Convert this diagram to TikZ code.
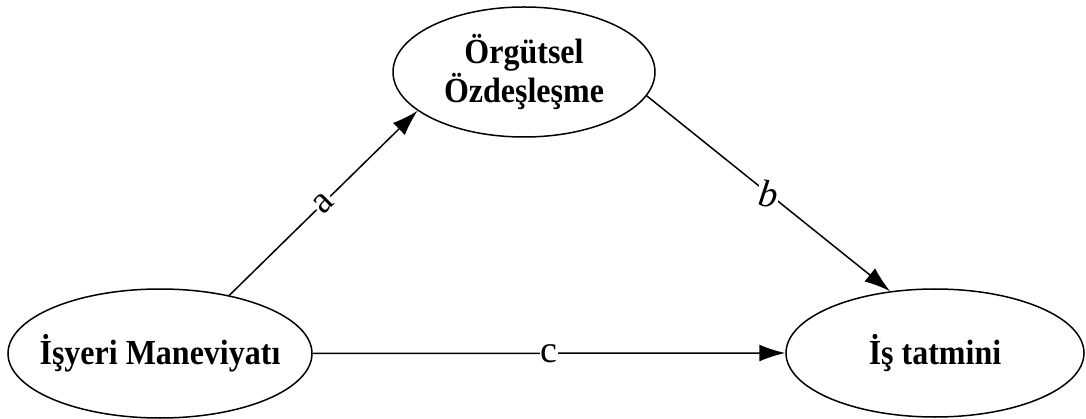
\documentclass[tikz,border=0pt]{standalone}
\usepackage{fontspec}
\setmainfont{Liberation Serif}
\usetikzlibrary{shapes.geometric,arrows.meta}
\begin{document}
\begin{tikzpicture}[x=1pt,y=-1pt,
  oval/.style={draw,ellipse,line width=1.5pt,inner sep=0pt},
  ovaltext/.style={font=\fontsize{32}{33}\selectfont\bfseries,align=center,inner sep=0pt,yscale=1.1},
  link/.style={-{Latex[length=26pt,width=17pt]},line width=1.5pt},
  coef/.style={fill=white,inner sep=1pt,font=\fontsize{38}{38}\selectfont}]%mediation model
\useasboundingbox (0,0) rectangle (1086,419);
\node[oval,minimum width=304pt,minimum height=129pt,
  label={[ovaltext]center:İşyeri Maneviyatı}] (mane) at (160,353.5) {};
\node[oval,minimum width=262pt,minimum height=130pt,
  label={[ovaltext]center:Örgütsel\\Özdeşleşme}] (ozde) at (524,72) {};
\node[oval,minimum width=298pt,minimum height=128pt,
  label={[ovaltext]center:İş tatmini}] (tatm) at (935,353) {};
\draw[link] (mane.40) -- node[coef,sloped]{a} (ozde.200);
\draw[link] (ozde.-11) -- node[coef,rotate=-8]{\itshape b} (tatm.126);
\draw[link] (mane.east) -- node[coef]{c} (tatm.west);
\end{tikzpicture}
\end{document}
